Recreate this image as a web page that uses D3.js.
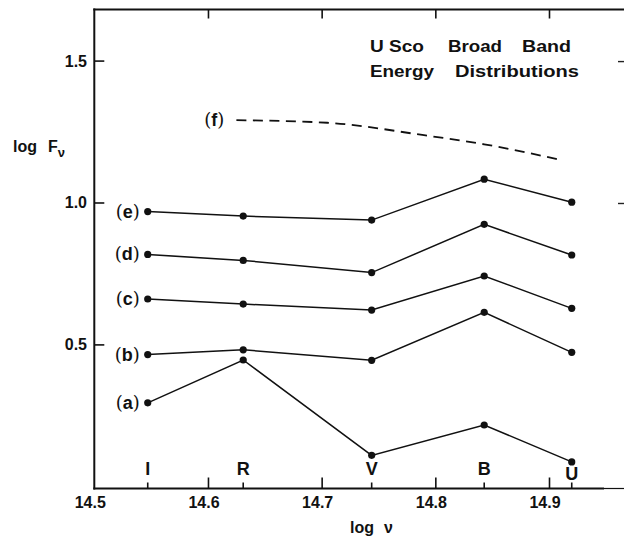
<!DOCTYPE html>
<html>
<head>
<meta charset="utf-8">
<script src="https://cdn.jsdelivr.net/npm/d3@7"></script>
<style>
  html, body { margin: 0; padding: 0; background: #fff; }
  svg { display: block; font-family: "Liberation Sans", Arial, Helvetica, sans-serif; }
</style>
</head>
<body>
<svg id="chart" width="624" height="541"></svg>
<script>
// ---- data ----
const bands = ["I", "R", "V", "B", "U"];
const logNu = [14.547, 14.631, 14.744, 14.843, 14.920];
const seriesNames = ["a", "b", "c", "d", "e"];
const seriesA = [0.294, 0.445, 0.109, 0.216, 0.086];
const seriesB = [0.464, 0.481, 0.444, 0.613, 0.472];
const seriesC = [0.660, 0.642, 0.621, 0.741, 0.627];
const seriesD = [0.817, 0.796, 0.753, 0.923, 0.815];
const seriesE = [0.968, 0.952, 0.938, 1.082, 1.001];
const fNu = [14.625, 14.705, 14.790, 14.843, 14.907];
const fVal = [1.290, 1.281, 1.237, 1.205, 1.153];
const xTicks = [14.5, 14.6, 14.7, 14.8, 14.9];
const xTickLabels = ["14.5", "14.6", "14.7", "14.8", "14.9"];
const yTicks = [0.5, 1.0, 1.5];
const yTickLabels = ["0.5", "1.0", "1.5"];
const titleLine1 = ["U Sco", "Broad", "Band"];
const titleLine2 = ["Energy", "Distributions"];

(function () {
const svg = d3.select("#chart");
const x = d3.scaleLinear().domain([14.5, 14.9]).range([94.3, 549]);
const y = d3.scaleLinear().domain([0, 1.68]).range([486.3, 9.5]);

const leftX = x(14.5), bottomY = 488.5, topY = 9.5, rightX = 624;

// frame: left, bottom, top
const frame = svg.append("g").attr("stroke", "#111").attr("fill", "none");
frame.append("line").attr("x1", leftX).attr("x2", leftX).attr("y1", topY - 1).attr("y2", bottomY + 1).attr("stroke-width", 2);
frame.append("line").attr("x1", leftX - 1).attr("x2", 604).attr("y1", bottomY).attr("y2", bottomY).attr("stroke-width", 2);
frame.append("line").attr("x1", 604).attr("x2", rightX).attr("y1", bottomY).attr("y2", bottomY).attr("stroke-width", 1.2);
frame.append("line").attr("x1", leftX - 1).attr("x2", rightX).attr("y1", topY).attr("y2", topY).attr("stroke-width", 2);

// bottom axis (ticks pointing up) via d3 axis
const xAxis = d3.axisBottom(x).tickValues(xTicks.slice(1)).tickSize(-11).tickFormat("");
const gx = svg.append("g").attr("transform", `translate(0,${bottomY})`).call(xAxis);
gx.select(".domain").remove();
gx.selectAll(".tick line").attr("stroke", "#111").attr("stroke-width", 1.6);

// top axis ticks pointing down
const xAxisTop = d3.axisTop(x).tickValues(xTicks.slice(1)).tickSize(-9).tickFormat("");
const gxt = svg.append("g").attr("transform", `translate(0,${topY})`).call(xAxisTop);
gxt.select(".domain").remove();
gxt.selectAll(".tick line").attr("stroke", "#111").attr("stroke-width", 1.6);

// x tick labels
svg.append("g").selectAll("text").data(xTicks).join("text")
  .attr("x", d => x(d) - 4).attr("y", 508)
  .attr("text-anchor", "middle").attr("font-size", 16).attr("font-weight", "bold")
  .attr("fill", "#111")
  .text((d, i) => xTickLabels[i]);

// left axis ticks (pointing right)
const yAxis = d3.axisLeft(y).tickValues(yTicks).tickSize(-10).tickFormat("");
const gy = svg.append("g").attr("transform", `translate(${leftX},0)`).call(yAxis);
gy.select(".domain").remove();
gy.selectAll(".tick line").attr("stroke", "#111").attr("stroke-width", 1.6);

svg.append("g").selectAll("text").data(yTicks).join("text")
  .attr("x", 87).attr("y", d => y(d) + 6)
  .attr("text-anchor", "end").attr("font-size", 16).attr("font-weight", "bold")
  .attr("fill", "#111")
  .text((d, i) => yTickLabels[i]);

// right edge ticks (partially visible)
svg.append("g").selectAll("line").data([1.5, 1.0]).join("line")
  .attr("x1", 618).attr("x2", 624).attr("y1", d => y(d) + 1).attr("y2", d => y(d) + 1)
  .attr("stroke", "#222").attr("stroke-width", 1.4);

// band ticks & labels
svg.append("g").selectAll("line").data(logNu).join("line")
  .attr("x1", d => x(d)).attr("x2", d => x(d))
  .attr("y1", bottomY - 6).attr("y2", bottomY)
  .attr("stroke", "#111").attr("stroke-width", 1.6);
svg.append("g").selectAll("text").data(bands).join("text")
  .attr("x", (d, i) => x(logNu[i]))
  .attr("y", d => d === "U" ? 480 : 475)
  .attr("text-anchor", "middle").attr("font-size", 18).attr("font-weight", "bold")
  .attr("fill", "#111")
  .text(d => d);

// series lines
const allSeries = [seriesA, seriesB, seriesC, seriesD, seriesE];
const line = d3.line().x(d => x(d[0])).y(d => y(d[1]));
allSeries.forEach((vals, si) => {
  const pts = vals.map((v, i) => [logNu[i], v]);
  svg.append("path").attr("d", line(pts))
    .attr("fill", "none").attr("stroke", "#111").attr("stroke-width", 1.5);
  svg.append("g").selectAll("circle").data(pts).join("circle")
    .attr("cx", d => x(d[0])).attr("cy", d => y(d[1])).attr("r", 3.6)
    .attr("fill", "#111");
  const lab = svg.append("text")
    .attr("x", x(logNu[0]) - 8).attr("y", y(vals[0]) + 6)
    .attr("text-anchor", "end").attr("font-size", 18).attr("fill", "#111");
  lab.append("tspan").attr("font-family", "DejaVu Serif, serif").text("(");
  lab.append("tspan").attr("font-weight", "bold").text(seriesNames[si]);
  lab.append("tspan").attr("font-family", "DejaVu Serif, serif").text(")");
});

// dashed (f)
const fPts = fNu.map((v, i) => [v, fVal[i]]);
svg.append("path")
  .attr("d", d3.line().x(d => x(d[0])).y(d => y(d[1])).curve(d3.curveMonotoneX)(fPts))
  .attr("fill", "none").attr("stroke", "#111").attr("stroke-width", 1.8)
  .attr("stroke-dasharray", "10,6.5");
const fl = svg.append("text")
  .attr("x", x(fNu[0]) - 12).attr("y", y(fVal[0]) + 6)
  .attr("text-anchor", "end").attr("font-size", 18).attr("fill", "#111");
fl.append("tspan").attr("font-family", "DejaVu Serif, serif").text("(");
fl.append("tspan").attr("font-weight", "bold").text("f");
fl.append("tspan").attr("font-family", "DejaVu Serif, serif").text(")");

// title
const t1x = [370, 448, 522], t1w = [54, 54, 49];
titleLine1.forEach((w, i) => {
  svg.append("text").attr("x", t1x[i]).attr("y", 52)
    .attr("font-size", 17).attr("font-weight", "bold").attr("fill", "#111")
    .attr("textLength", t1w[i]).attr("lengthAdjust", "spacingAndGlyphs").text(w);
});
const t2x = [370, 455], t2w = [64, 124];
titleLine2.forEach((w, i) => {
  svg.append("text").attr("x", t2x[i]).attr("y", 77)
    .attr("font-size", 17).attr("font-weight", "bold").attr("fill", "#111")
    .attr("textLength", t2w[i]).attr("lengthAdjust", "spacingAndGlyphs").text(w);
});

// axis titles
const yl = svg.append("text").attr("x", 13).attr("y", 152)
  .attr("font-size", 16).attr("font-weight", "bold").attr("fill", "#111");
yl.append("tspan").text("log");
yl.append("tspan").attr("dx", 11).text("F");
yl.append("tspan").attr("dy", 5).attr("font-size", 13).text("ν");

const xl = svg.append("text").attr("x", 350).attr("y", 533)
  .attr("font-size", 16).attr("font-weight", "bold").attr("fill", "#111");
xl.append("tspan").text("log");
xl.append("tspan").attr("dx", 10).text("ν");
})();
</script>
</body>
</html>
